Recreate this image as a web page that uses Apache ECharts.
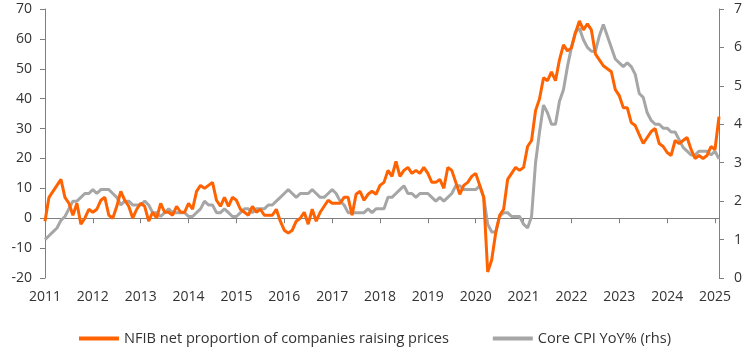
<!DOCTYPE html>
<html>
<head>
<meta charset="utf-8">
<script src="https://cdn.jsdelivr.net/npm/echarts@6/dist/echarts.min.js"></script>
<style>
  html, body { margin: 0; padding: 0; background: #ffffff; }
  #chart { width: 750px; height: 354px; }
</style>
</head>
<body>
<div id="chart"></div>
<script>
// ---- Data (monthly, Jan 2011 - Feb 2025) ----
const yearLabels = ['2011','2012','2013','2014','2015','2016','2017','2018','2019','2020','2021','2022','2023','2024','2025'];
const monthsInLastYear = 2;

// NFIB net proportion of companies raising prices (left axis)
const nfibValues = [
  -1, 7, 9, 11, 13, 7, 5, 1, 5, -2, 0, 3,          // 2011
  2, 3, 6, 7, 1, 0, 4, 9, 6, 4, 0, 3,              // 2012
  5, 4, -1, 2, 0, 5, 2, 2, 1, 4, 2, 2,             // 2013
  5, 3, 9, 11, 10, 11, 12, 6, 4, 7, 4, 7,          // 2014
  6, 3, 2, 1, 4, 2, 3, 1, 1, 1, 3, -1,             // 2015
  -4, -5, -4, -1, 0, 2, -2, 3, -1, 2, 4, 6,        // 2016
  5, 5, 5, 7, 7, 1, 8, 9, 6, 8, 9, 8,              // 2017
  11, 12, 16, 14, 19, 14, 16, 17, 15, 16, 15, 17,  // 2018
  15, 12, 12, 13, 10, 17, 16, 12, 8, 11, 12, 14,   // 2019
  15, 11, 7, -18, -14, -5, 1, 3, 13, 15, 17, 16,   // 2020
  17, 24, 26, 36, 40, 47, 46, 49, 46, 53, 58, 56,  // 2021
  57, 62, 66, 63, 65, 63, 55, 53, 51, 50, 49, 43,  // 2022
  41, 37, 37, 32, 31, 28, 25, 27, 29, 30, 25, 24,  // 2023
  22, 21, 26, 25, 26, 27, 23, 20, 21, 20, 21, 24,  // 2024
  23, 34                                           // 2025
];

// Core CPI YoY% (right axis)
const coreCpiValues = [
  1.0, 1.1, 1.2, 1.3, 1.5, 1.6, 1.8, 2.0, 2.0, 2.1, 2.2, 2.2, // 2011
  2.3, 2.2, 2.3, 2.3, 2.3, 2.2, 2.1, 1.9, 2.0, 2.0, 1.9, 1.9, // 2012
  1.9, 2.0, 1.9, 1.7, 1.7, 1.6, 1.7, 1.8, 1.7, 1.7, 1.7, 1.7, // 2013
  1.6, 1.6, 1.7, 1.8, 2.0, 1.9, 1.9, 1.7, 1.7, 1.8, 1.7, 1.6, // 2014
  1.6, 1.7, 1.8, 1.8, 1.7, 1.8, 1.8, 1.8, 1.9, 1.9, 2.0, 2.1, // 2015
  2.2, 2.3, 2.2, 2.1, 2.2, 2.2, 2.2, 2.3, 2.2, 2.1, 2.1, 2.2, // 2016
  2.3, 2.2, 2.0, 1.9, 1.7, 1.7, 1.7, 1.7, 1.7, 1.8, 1.7, 1.8, // 2017
  1.8, 1.8, 2.1, 2.1, 2.2, 2.3, 2.4, 2.2, 2.2, 2.1, 2.2, 2.2, // 2018
  2.2, 2.1, 2.0, 2.1, 2.0, 2.1, 2.2, 2.4, 2.4, 2.3, 2.3, 2.3, // 2019
  2.3, 2.4, 2.1, 1.4, 1.2, 1.2, 1.6, 1.7, 1.7, 1.6, 1.6, 1.6, // 2020
  1.4, 1.3, 1.6, 3.0, 3.8, 4.5, 4.3, 4.0, 4.0, 4.6, 4.9, 5.5, // 2021
  6.0, 6.4, 6.5, 6.2, 6.0, 5.9, 5.9, 6.3, 6.6, 6.3, 6.0, 5.7, // 2022
  5.6, 5.5, 5.6, 5.5, 5.3, 4.8, 4.7, 4.3, 4.1, 4.0, 4.0, 3.9, // 2023
  3.9, 3.8, 3.8, 3.6, 3.4, 3.3, 3.2, 3.2, 3.3, 3.3, 3.3, 3.2, // 2024
  3.3, 3.1                                                    // 2025
];

const seriesNames = ['NFIB net proportion of companies raising prices', 'Core CPI YoY% (rhs)'];

// Month categories built from the year labels
const categories = [];
yearLabels.forEach(function (y, i) {
  const n = (i === yearLabels.length - 1) ? monthsInLastYear : 12;
  for (let m = 1; m <= n; m++) categories.push(y + '-' + (m < 10 ? '0' + m : m));
});

const FONT = '"Open Sans", "Liberation Sans", Arial, sans-serif';
const TXT = '#333333';
const AX = '#7f7f7f';

const chart = echarts.init(document.getElementById('chart'), null, { renderer: 'canvas' });
const isYearStart = function (idx) { return idx % 12 === 0; };

chart.setOption({
  animation: false,
  backgroundColor: '#ffffff',
  textStyle: { fontFamily: FONT },
  grid: { left: 45, right: 31, top: 9, bottom: 76, containLabel: false, outerBoundsMode: 'none' },
  legend: {
    data: seriesNames,
    left: 'center',
    top: 326,
    icon: 'rect',
    itemWidth: 40,
    itemHeight: 4,
    itemGap: 44,
    textStyle: { fontFamily: FONT, fontSize: 14.6, color: TXT }
  },
  xAxis: {
    type: 'category',
    data: categories,
    boundaryGap: false,
    axisLine: { onZero: true, onZeroAxisIndex: 0, lineStyle: { color: AX, width: 1 } },
    axisTick: { show: true, interval: isYearStart, length: 5, lineStyle: { color: AX } },
    axisLabel: {
      interval: isYearStart,
      margin: 12,
      fontFamily: FONT,
      fontSize: 14,
      color: TXT,
      formatter: function (v) { return v.slice(0, 4); }
    },
    splitLine: { show: false }
  },
  yAxis: [
    {
      type: 'value',
      position: 'left',
      min: -20, max: 70, interval: 10,
      axisLine: { show: true, lineStyle: { color: AX, width: 1 } },
      axisTick: { show: true, length: 5, lineStyle: { color: AX } },
      axisLabel: { margin: 13, fontFamily: FONT, fontSize: 14, color: TXT },
      splitLine: { show: false }
    },
    {
      type: 'value',
      position: 'right',
      min: 0, max: 7, interval: 1,
      axisLine: { show: true, lineStyle: { color: AX, width: 1 } },
      axisTick: { show: true, length: 5, lineStyle: { color: AX } },
      axisLabel: { margin: 15, fontFamily: FONT, fontSize: 14, color: TXT },
      splitLine: { show: false }
    }
  ],
  series: [
    {
      name: seriesNames[0],
      type: 'line',
      yAxisIndex: 0,
      data: nfibValues,
      showSymbol: false,
      symbol: 'none',
      z: 3,
      color: '#FF6200',
      lineStyle: { width: 3, color: '#FF6200' }
    },
    {
      name: seriesNames[1],
      type: 'line',
      yAxisIndex: 1,
      data: coreCpiValues,
      showSymbol: false,
      symbol: 'none',
      z: 2,
      color: '#A6A6A6',
      lineStyle: { width: 3, color: '#A6A6A6' }
    }
  ]
});
</script>
</body>
</html>
